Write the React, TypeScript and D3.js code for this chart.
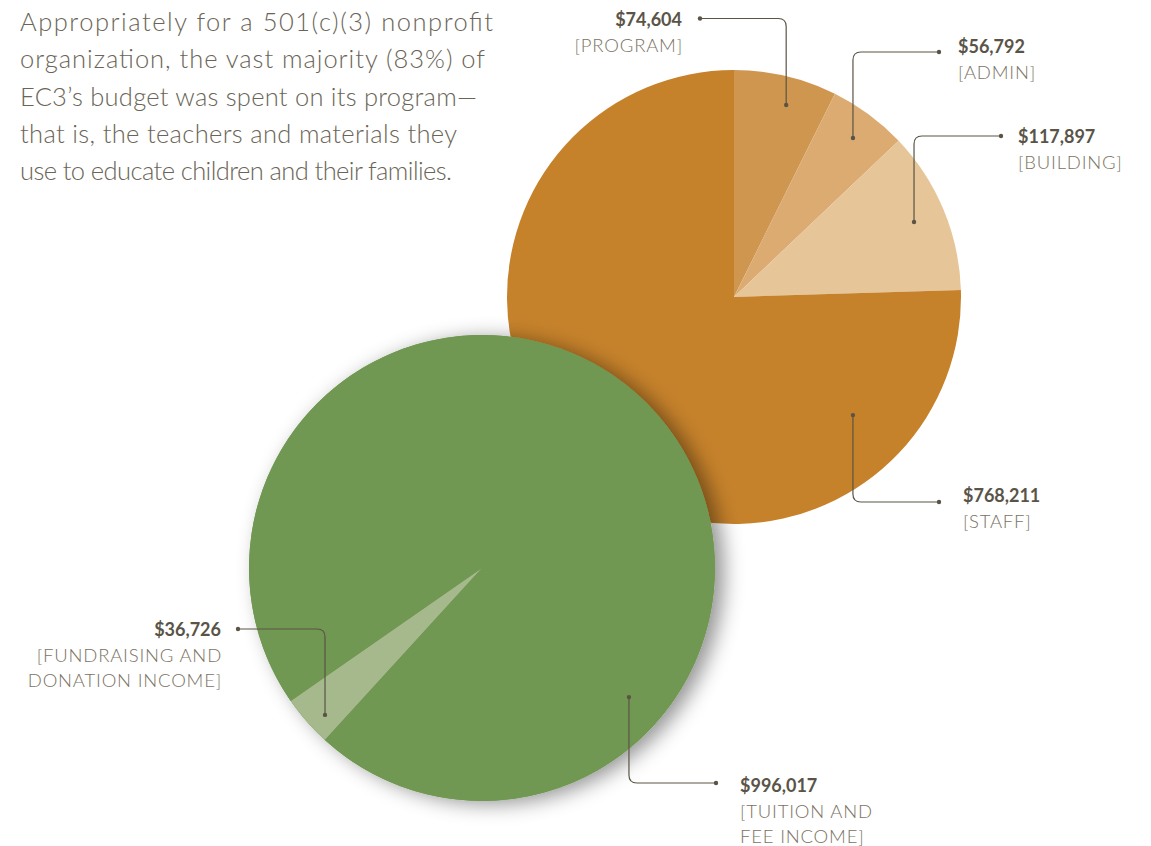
import React from "react";
import * as d3 from "d3";

// ---- data ----
const expenseCategories = ["PROGRAM", "ADMIN", "BUILDING", "STAFF"];
const expenseValues = [74604, 56792, 117897, 768211];
const expenseColors = ["#CF9650", "#DBAB72", "#E6C599", "#C6822B"];

const incomeCategories = ["FUNDRAISING AND DONATION INCOME", "TUITION AND FEE INCOME"];
const incomeValues = [36726, 996017];
const incomeColors = ["#A5B98D", "#719853"];

const paragraph = [
  "Appropriately for a 501(c)(3) nonprofit",
  "organization, the vast majority (83%) of",
  "EC3’s budget was spent on its program—",
  "that is, the teachers and materials they",
  "use to educate children and their families.",
];
const paragraphWidths = [473, 465, 457, 437, 432];

const fmt = d3.format("$,");

type Ann = {
  anchorAngle: number; // degrees, clockwise from 12 o'clock
  anchorR: number;
  elbowY: number;
  endX: number;
  side: "left" | "right";
  textX: number;
  textY: number;
  lines: string[];
};

const expenseAnn: Ann[] = [
  { anchorAngle: 15.2, anchorR: 199, elbowY: 18.5, endX: 700, side: "left", textX: 682, textY: 26, lines: ["[PROGRAM]"] },
  { anchorAngle: 36.8, anchorR: 198.6, elbowY: 52, endX: 939, side: "right", textX: 958, textY: 53, lines: ["[ADMIN]"] },
  { anchorAngle: 67.4, anchorR: 195, elbowY: 136, endX: 1001, side: "right", textX: 1018, textY: 143, lines: ["[BUILDING]"] },
  { anchorAngle: 134.8, anchorR: 167.6, elbowY: 502, endX: 939, side: "right", textX: 963, textY: 502, lines: ["[STAFF]"] },
];
const incomeAnn: Ann[] = [
  { anchorAngle: 226.9, anchorR: 215, elbowY: 629, endX: 238, side: "left", textX: 221, textY: 636, lines: ["[FUNDRAISING AND", "DONATION INCOME]"] },
  { anchorAngle: 131.3, anchorR: 195.6, elbowY: 783, endX: 716, side: "right", textX: 740, textY: 792, lines: ["[TUITION AND", "FEE INCOME]"] },
];

const FONT = "Lato, 'Open Sans', sans-serif";
const LINE = "#5b5445";

function polar(cx: number, cy: number, deg: number, r: number) {
  const a = (deg * Math.PI) / 180;
  return [cx + r * Math.sin(a), cy - r * Math.cos(a)];
}

function Leader({ cx, cy, ann, value }: { cx: number; cy: number; ann: Ann; value: number }) {
  const [ax, ay] = polar(cx, cy, ann.anchorAngle, ann.anchorR);
  const r = 8;
  const ex = ann.endX;
  const ey = ann.elbowY;
  const dirX = ex > ax ? 1 : -1;
  const dirY = ey > ay ? 1 : -1;
  const path = `M${ax},${ay} L${ax},${ey - dirY * r} Q${ax},${ey} ${ax + dirX * r},${ey} L${ex},${ey}`;
  const anchor = ann.side === "left" ? "end" : "start";
  return (
    <g>
      <path d={path} fill="none" stroke={LINE} strokeWidth={1.2} />
      <circle cx={ax} cy={ay} r={2.2} fill={LINE} />
      <circle cx={ex} cy={ey} r={2.2} fill={LINE} />
      <text x={ann.textX} y={ann.textY} textAnchor={anchor} fontFamily={FONT} fontWeight={700} fontSize={18} fill="#5a5448">
        {fmt(value)}
      </text>
      {ann.lines.map((l, i) => (
        <text
          key={i}
          x={ann.side === "left" ? ann.textX + 1 : ann.textX}
          y={ann.textY + 25.5 * (i + 1)}
          textAnchor={anchor}
          fontFamily={FONT}
          fontWeight={300}
          fontSize={18.5}
          letterSpacing={0.8}
          fill="#7a7262"
        >
          {l}
        </text>
      ))}
    </g>
  );
}

export default function App() {
  const W = 1151, H = 846;
  const oc = { x: 734, y: 297, r: 227 };
  const gc = { x: 482, y: 568, r: 233 };

  const expensePie = d3.pie<number>().sort(null).value((d) => d)(expenseValues);
  const incomeStart = (222.4 * Math.PI) / 180;
  const incomePie = d3
    .pie<number>()
    .sort(null)
    .value((d) => d)
    .startAngle(incomeStart)
    .endAngle(incomeStart + 2 * Math.PI)(incomeValues);

  const arcO = d3.arc<d3.PieArcDatum<number>>().innerRadius(0).outerRadius(oc.r);
  const arcG = d3.arc<d3.PieArcDatum<number>>().innerRadius(0).outerRadius(gc.r);

  return (
    <svg width={W} height={H} style={{ position: "absolute", left: 0, top: 0, background: "#fff" }}>
      <defs>
        <filter id="shadow" x="-20%" y="-20%" width="140%" height="140%">
          <feDropShadow dx={9} dy={3} stdDeviation={10} floodColor="#000" floodOpacity={0.42} />
        </filter>
      </defs>
      <rect width={W} height={H} fill="#fff" />
      {paragraph.map((l, i) => (
        <text
          key={i}
          x={20}
          y={31 + i * 37.3}
          fontFamily={FONT}
          fontWeight={300}
          fontSize={25.5}
          textLength={paragraphWidths[i]}
          lengthAdjust="spacing"
          fill="#6a6557"
        >
          {l}
        </text>
      ))}
      <g transform={`translate(${oc.x},${oc.y})`}>
        {expensePie.map((d, i) => (
          <path key={i} d={arcO(d) as string} fill={expenseColors[i]} />
        ))}
      </g>
      <g transform={`translate(${gc.x},${gc.y})`}>
        <circle r={gc.r} fill={incomeColors[1]} filter="url(#shadow)" />
        {incomePie.map((d, i) => (
          <path key={i} d={arcG(d) as string} fill={incomeColors[i]} />
        ))}
      </g>
      {expenseAnn.map((a, i) => (
        <Leader key={i} cx={oc.x} cy={oc.y} ann={a} value={expenseValues[i]} />
      ))}
      {incomeAnn.map((a, i) => (
        <Leader key={"g" + i} cx={gc.x} cy={gc.y} ann={a} value={incomeValues[i]} />
      ))}
    </svg>
  );
}
